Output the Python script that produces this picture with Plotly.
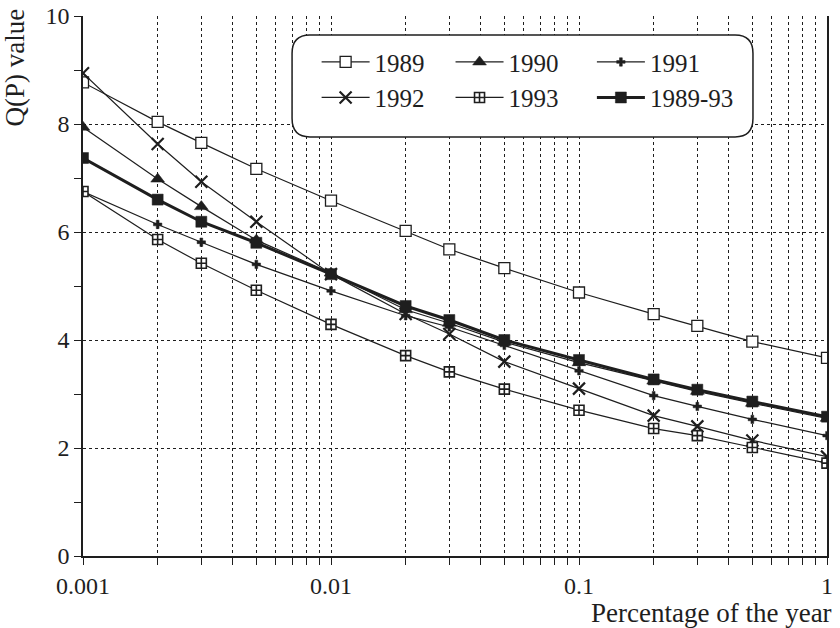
import plotly.graph_objects as go

# ---- data ----
pct = [0.001, 0.002, 0.003, 0.005, 0.01, 0.02, 0.03, 0.05, 0.1, 0.2, 0.3, 0.5, 1]
q1989 = [8.77, 8.04, 7.65, 7.17, 6.58, 6.02, 5.68, 5.33, 4.88, 4.48, 4.26, 3.97, 3.67]
q1990 = [7.94, 6.98, 6.47, 5.85, 5.24, 4.56, 4.31, 3.96, 3.58, 3.24, 3.05, 2.83, 2.55]
q1991 = [6.75, 6.14, 5.81, 5.40, 4.91, 4.45, 4.24, 3.90, 3.43, 2.97, 2.77, 2.53, 2.23]
q1992 = [8.94, 7.63, 6.93, 6.19, 5.22, 4.48, 4.11, 3.60, 3.10, 2.60, 2.40, 2.14, 1.84]
q1993 = [6.75, 5.86, 5.42, 4.92, 4.29, 3.71, 3.41, 3.09, 2.70, 2.36, 2.23, 2.01, 1.72]
q8993 = [7.37, 6.60, 6.19, 5.80, 5.22, 4.63, 4.37, 4.00, 3.63, 3.27, 3.08, 2.86, 2.58]

x_tickvals = [0.001, 0.01, 0.1, 1]
x_ticktext = ["0.001", "0.01", "0.1", "1"]
x_minor = [m * d for d in (0.001, 0.01, 0.1) for m in range(2, 10)]
y_tickvals = [0, 2, 4, 6, 8, 10]

INK = "#1e1e1e"
SERIF = "Liberation Serif"

# name, values, marker, line width, legend column
series = [
    ("1989", q1989, dict(symbol="square", size=11, color="white", line=dict(color=INK, width=1.3)), 1.2, "legend"),
    ("1990", q1990, dict(symbol="triangle-up", size=12, color=INK, line=dict(color=INK, width=0.5)), 1.2, "legend2"),
    ("1991", q1991, dict(symbol="cross", size=7, color=INK, line=dict(color=INK, width=0.5)), 1.2, "legend3"),
    ("1992", q1992, dict(symbol="x-thin", size=12, color=INK, line=dict(color=INK, width=2.2)), 1.2, "legend"),
    ("1993", q1993, dict(symbol="square-cross", size=10, color="white", line=dict(color=INK, width=1.6)), 1.2, "legend2"),
    ("1989-93", q8993, dict(symbol="square", size=11, color=INK, line=dict(color=INK, width=0.5)), 3.0, "legend3"),
]

fig = go.Figure()
for name, vals, mk, lw, lg in series:
    fig.add_trace(go.Scatter(
        x=pct, y=vals, name=name, mode="lines+markers",
        line=dict(color=INK, width=lw), marker=mk, legend=lg, legendgroup=name,
    ))

# rounded legend box (paper coords)
x0, x1, y0, y1 = 0.281, 0.9005, 0.776, 0.965
rx, ry = 0.024, 0.034
path = (f"M {x0+rx},{y0} L {x1-rx},{y0} Q {x1},{y0} {x1},{y0+ry} "
        f"L {x1},{y1-ry} Q {x1},{y1} {x1-rx},{y1} L {x0+rx},{y1} "
        f"Q {x0},{y1} {x0},{y1-ry} L {x0},{y0+ry} Q {x0},{y0} {x0+rx},{y0} Z")

def legend_at(xp):
    return dict(
        orientation="v", x=xp, y=0.957, xanchor="left", yanchor="top",
        font=dict(size=25, family=SERIF, color=INK),
        bgcolor="rgba(0,0,0,0)", borderwidth=0, traceorder="normal",
        itemwidth=48, tracegroupgap=7,
    )

fig.update_layout(
    width=840, height=628,
    margin=dict(l=83, r=13, t=16, b=72, autoexpand=False),
    paper_bgcolor="white", plot_bgcolor="white",
    font=dict(family=SERIF, color=INK, size=24),
    showlegend=True,
    legend=legend_at(0.314),
    legend2=legend_at(0.494),
    legend3=legend_at(0.684),
    shapes=[dict(type="path", path=path, xref="paper", yref="paper",
                 line=dict(color=INK, width=1.5), fillcolor="white", layer="above")],
    annotations=[
        dict(text="Q(P) value", xref="paper", yref="paper", x=-0.092, y=0.904,
             textangle=-90, showarrow=False, font=dict(size=27, family=SERIF, color=INK),
             xanchor="center", yanchor="middle"),
        dict(text="Percentage of the year", xref="paper", yref="paper", x=1.009, y=-0.106,
             showarrow=False, font=dict(size=27, family=SERIF, color=INK),
             xanchor="right", yanchor="middle"),
    ],
)

fig.update_xaxes(
    type="log", range=[-3, 0], automargin=False,
    tickmode="array", tickvals=x_tickvals, ticktext=x_ticktext,
    ticks="outside", ticklen=7, tickcolor=INK, tickwidth=1.2,
    showline=True, linecolor=INK, linewidth=1.5, mirror=False,
    showgrid=True, gridcolor=INK, griddash="dot", gridwidth=1,
    tickfont=dict(size=24, family=SERIF, color=INK),
    minor=dict(tickmode="array", tickvals=x_minor, ticks="outside", ticklen=7,
               tickcolor=INK, tickwidth=1.2,
               showgrid=True, gridcolor=INK, griddash="dot", gridwidth=1),
    zeroline=False,
)
fig.update_yaxes(
    range=[0, 10], automargin=False, tickmode="array", tickvals=y_tickvals,
    ticks="outside", ticklen=7, tickcolor=INK, tickwidth=1.2,
    showline=True, linecolor=INK, linewidth=1.5, mirror=True,
    showgrid=True, gridcolor=INK, griddash="dot", gridwidth=1,
    tickfont=dict(size=24, family=SERIF, color=INK),
    minor=dict(dtick=1, ticks="outside", ticklen=7, tickcolor=INK, tickwidth=1.2, showgrid=False),
    zeroline=False,
)

fig.write_html("out.html")
